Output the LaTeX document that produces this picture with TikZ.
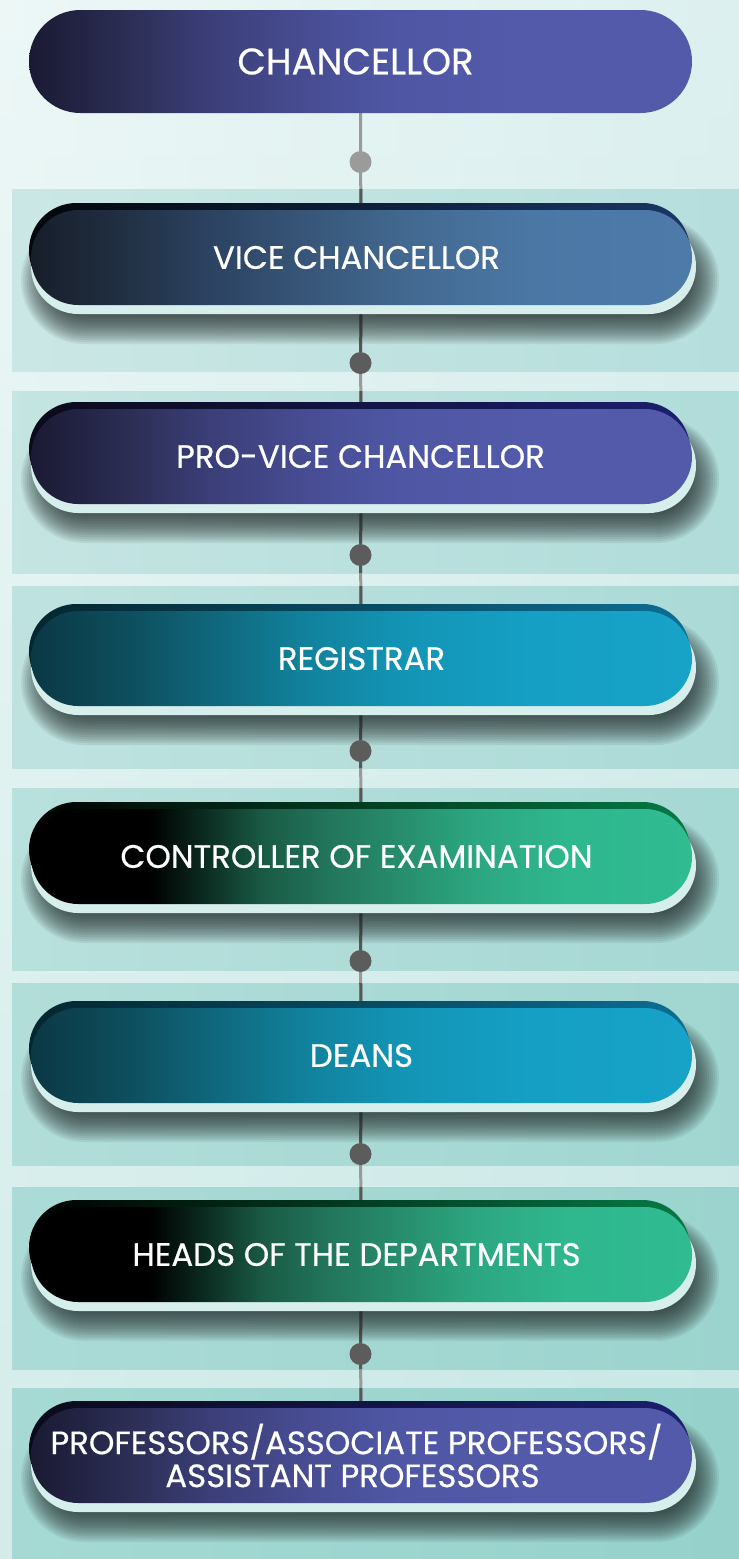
\documentclass[tikz,border=0pt]{standalone}
\usepackage{fontspec}
\setmainfont{Poppins}
\newfontfamily\pillfont{Poppins}[FakeBold=0.5]
\pgfdeclarelayer{back}
\pgfdeclarelayer{lines}
\pgfsetlayers{back,lines,main}

\definecolor{bgTL}{HTML}{ECF7F6}
\definecolor{bgTR}{HTML}{DCF0EF}
\definecolor{bgBL}{HTML}{D3ECEA}
\definecolor{bgBR}{HTML}{C6E6E4}
\definecolor{bandTL}{HTML}{CBE7E5}
\definecolor{bandTR}{HTML}{B5DEDC}
\definecolor{bandBL}{HTML}{A6D9D4}
\definecolor{bandBR}{HTML}{96D1CB}
\definecolor{rimlight}{HTML}{D6EEEC}
\definecolor{linelight}{HTML}{9A9A9A}
\definecolor{linedark}{HTML}{575757}
\definecolor{dotlight}{HTML}{9B9B9B}
\definecolor{dotdark}{HTML}{5C5C5C}
\definecolor{shadowc}{HTML}{1E2626}

% indigo
\definecolor{iA}{HTML}{1A1A33}\definecolor{iB}{HTML}{2C2E55}\definecolor{iC}{HTML}{3A3D75}
\definecolor{iD}{HTML}{474C92}\definecolor{iE}{HTML}{4F57A5}\definecolor{iF}{HTML}{525AA9}
\pgfdeclarehorizontalshading{indigoS}{100bp}{color(0bp)=(iA); color(25bp)=(iA); color(32.5bp)=(iB); color(38bp)=(iC); color(45.5bp)=(iD); color(53bp)=(iE); color(62.5bp)=(iF); color(100bp)=(iF)}
% vice blue
\definecolor{vA}{HTML}{171E2A}\definecolor{vB}{HTML}{223145}\definecolor{vC}{HTML}{2B4160}
\definecolor{vD}{HTML}{375578}\definecolor{vE}{HTML}{42688F}\definecolor{vF}{HTML}{4B77A5}\definecolor{vG}{HTML}{4E7AAA}
\pgfdeclarehorizontalshading{blueS}{100bp}{color(0bp)=(vA); color(25bp)=(vA); color(32.5bp)=(vB); color(38bp)=(vC); color(45.5bp)=(vD); color(53bp)=(vE); color(62.5bp)=(vF); color(75bp)=(vG); color(100bp)=(vG)}
% teal
\definecolor{tA}{HTML}{0B3845}\definecolor{tB}{HTML}{0E4F5E}\definecolor{tC}{HTML}{0F6478}
\definecolor{tD}{HTML}{11819B}\definecolor{tE}{HTML}{1394B5}\definecolor{tF}{HTML}{159FC4}\definecolor{tG}{HTML}{17A2C7}
\pgfdeclarehorizontalshading{tealS}{100bp}{color(0bp)=(tA); color(25bp)=(tA); color(32.5bp)=(tB); color(38bp)=(tC); color(45.5bp)=(tD); color(53bp)=(tE); color(62.5bp)=(tF); color(75bp)=(tG); color(100bp)=(tG)}
% green
\definecolor{gA}{HTML}{000000}\definecolor{gB}{HTML}{0B2A1F}\definecolor{gC}{HTML}{1A5A45}
\definecolor{gD}{HTML}{22755B}\definecolor{gE}{HTML}{2CA680}\definecolor{gF}{HTML}{2FB78E}\definecolor{gG}{HTML}{30BB91}
\pgfdeclarehorizontalshading{greenS}{100bp}{color(0bp)=(gA); color(34bp)=(gA); color(38bp)=(gB); color(42.5bp)=(gC); color(47.5bp)=(gD); color(58.5bp)=(gE); color(65.5bp)=(gF); color(75bp)=(gG); color(100bp)=(gG)}

% top rims
\definecolor{irL}{HTML}{0A0A1A}\definecolor{irR}{HTML}{1B1F6E}
\definecolor{vrL}{HTML}{02060C}\definecolor{vrR}{HTML}{1B3766}
\definecolor{trL}{HTML}{04262F}\definecolor{trR}{HTML}{0C6E93}
\definecolor{grL}{HTML}{000000}\definecolor{grR}{HTML}{047A45}

\tikzset{
  pillbody/.style={rectangle, rounded corners=47.4pt, minimum width=661pt,
    minimum height=95pt, inner sep=0pt, text=white, align=center, shade,
    font=\pillfont\fontsize{32.4}{33}\selectfont},
  pillrim/.style={fill=rimlight, rounded corners=47.4pt},
  pilltop/.style={rounded corners=47.4pt},
  shadowlayer/.style={fill=shadowc, fill opacity=0.078},
  dotnode/.style={circle, minimum size=22pt, inner sep=0pt, fill=dotdark},
  conn/.style={line width=3pt, draw=linelight},
  conndark/.style={line width=3pt, draw=linedark},
}

\newcommand\orgpill[6]{%
  \foreach \g in {-14,-12,...,16} {
    \fill[shadowlayer, rounded corners=47.4pt+\g pt] (37-\g,#2+30-\g) rectangle (703+\g,#2+125+\g);
  }
  \fill[pillrim] (31,#2+16) rectangle (696,#2+111);
  \path[pilltop, left color=#4, right color=#5] (29,#2) rectangle (690,#2+95);
  \node[pillbody, shading=#3] (#1) at (361.5,#2+54.5) {#6};
}

\begin{document}
\begin{tikzpicture}[x=1pt, y=-1pt]
\useasboundingbox (0,0) rectangle (739,1559);

\begin{pgfonlayer}{back}
  \foreach \i in {0,...,39} {
    \pgfmathtruncatemacro\t{\i*100/39}
    \colorlet{stripL}{bgBL!\t!bgTL}
    \colorlet{stripR}{bgBR!\t!bgTR}
    \path[left color=stripL, right color=stripR] (0,\i*39-0.5) rectangle (739,\i*39+40);
  }
  \foreach \ta/\tb/\t in {189/371/0, 391/573/17, 586/768/33, 788/970/50, 983/1165/67, 1187/1369/84, 1388/1559/100} {
    \colorlet{bandL}{bandBL!\t!bandTL}
    \colorlet{bandR}{bandBR!\t!bandTR}
    \path[left color=bandL, right color=bandR] (12,\ta) rectangle (739,\tb);
  }
\end{pgfonlayer}

% first pill
\node[pillbody, shading=indigoS, minimum height=103pt, rounded corners=51.4pt,
      minimum width=663pt, font=\pillfont\fontsize{37}{40}\selectfont] (chan) at (360.5,61.5)
      {\raisebox{-3.5pt}{CHANCELLOR}\kern10pt};

\orgpill{vice}{203}{blueS}{vrL}{vrR}{VICE CHANCELLOR\kern10pt}
\orgpill{pro}{402}{indigoS}{irL}{irR}{PRO-VICE CHANCELLOR\kern2pt}
\orgpill{reg}{604}{tealS}{trL}{trR}{REGISTRAR}
\orgpill{coe}{802}{greenS}{grL}{grR}{CONTROLLER OF EXAMINATION\kern10pt}
\orgpill{deans}{1001}{tealS}{trL}{trR}{DEANS}
\orgpill{heads}{1200}{greenS}{grL}{grR}{HEADS OF THE DEPARTMENTS\kern10pt}
\orgpill{prof}{1401}{indigoS}{irL}{irR}{PROFESSORS/ASSOCIATE PROFESSORS/\kern10pt\\ASSISTANT PROFESSORS\kern18pt}

\node[dotnode, fill=dotlight] (d1) at (360.5,162) {};
\node[dotnode] (d2) at (360.5,363) {};
\node[dotnode] (d3) at (360.5,555) {};
\node[dotnode] (d4) at (360.5,751) {};
\node[dotnode] (d5) at (360.5,961) {};
\node[dotnode] (d6) at (360.5,1154) {};
\node[dotnode] (d7) at (360.5,1354) {};

\begin{pgfonlayer}{lines}
  \draw[conn] (chan) -- (d1) -- (vice) -- (d2) -- (pro) -- (d3) -- (reg) -- (d4)
    -- (coe) -- (d5) -- (deans) -- (d6) -- (heads) -- (d7) -- (prof);
  \begin{scope}
    \clip (12,189) rectangle (739,371) (12,391) rectangle (739,573)
          (12,586) rectangle (739,768) (12,788) rectangle (739,970)
          (12,983) rectangle (739,1165) (12,1187) rectangle (739,1369)
          (12,1388) rectangle (739,1559);
    \draw[conndark] (chan) -- (d1) -- (vice) -- (d2) -- (pro) -- (d3) -- (reg) -- (d4)
      -- (coe) -- (d5) -- (deans) -- (d6) -- (heads) -- (d7) -- (prof);
  \end{scope}
\end{pgfonlayer}
\end{tikzpicture}
\end{document}
